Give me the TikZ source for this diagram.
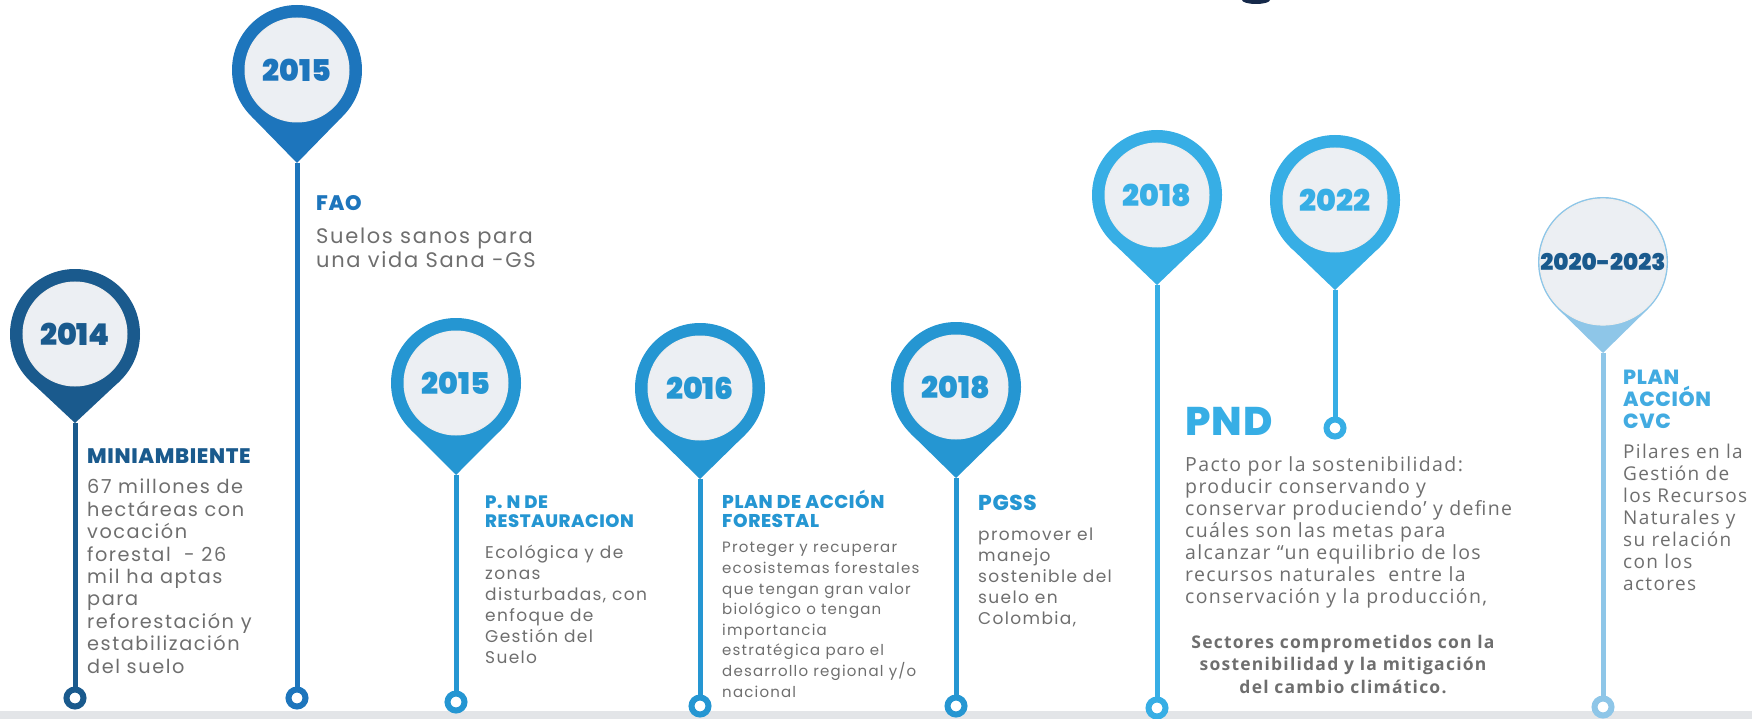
\documentclass[tikz,border=0pt]{standalone}
\usepackage{fontspec}
\setmainfont{Poppins}
\newfontfamily\bodyfont{Poppins}[LetterSpace=8]
\newfontfamily\headfont{Poppins ExtraBold}[LetterSpace=3]
\newfontfamily\yearfont{Poppins Black}
\newfontfamily\humfont{Open Sans}[LetterSpace=7]
\usetikzlibrary{calc}
\definecolor{tlNavy}{HTML}{1A5A8D}
\definecolor{tlBlue}{HTML}{1D75BC}
\definecolor{tlMid}{HTML}{2596D2}
\definecolor{tlSky}{HTML}{37AEE5}
\definecolor{tlPale}{HTML}{8EC6E8}
\definecolor{tlCvc}{HTML}{42ABE1}
\definecolor{tlDisc}{HTML}{ECEFF3}
\definecolor{tlText}{HTML}{6E6E6E}
\definecolor{tlStrip}{HTML}{E3E5E8}
\definecolor{tlInk}{HTML}{15294A}

\begin{document}
\begin{tikzpicture}[
  x=1pt,y=-1pt,
  disc/.style={circle, fill=tlDisc, draw=black!7, line width=1pt,
               minimum size=104pt, inner sep=0pt,
               font=\yearfont\fontsize{30}{30}\selectfont},
  ring/.style={circle, minimum size=17pt, inner sep=0pt,
               line width=6pt, fill=white},
  stem/.style={line width=5pt},
  % multi-line nodes sit on the baseline of their last line
  head/.style={font=\headfont\fontsize{21}{21}\selectfont,
               anchor=base west, align=left, inner sep=0pt},
  body/.style={font=\bodyfont\fontsize{18}{22.4}\selectfont, text=tlText,
               anchor=base west, align=left, inner sep=0pt},
  note/.style={font=\humfont\fontsize{19.5}{21.9}\selectfont, text=tlText,
               anchor=base west, align=left, inner sep=0pt},
]
  \path[use as bounding box] (0,0) rectangle (1752,719);

  % ground strip and the cut-off title glyph
  \fill[tlStrip] (0,711) rectangle (1752,719);
  \fill[tlInk] (1242,0) arc[start angle=180, end angle=0,
    x radius=14, y radius=4] -- cycle;

  % Pins: name/x/centre y/tip y/ring y/colour/year colour/year
  \foreach \n/\x/\y/\tp/\rg/\col/\ink/\yr in {
      a/75/334/423/698/tlNavy/tlNavy/2014,
      b/297/70/163/698/tlBlue/tlBlue/2015,
      c/456/383/475/702/tlMid/tlMid/2015,
      d/700/388/479/706/tlMid/tlMid/2016,
      e/956/387/478/706/tlMid/tlMid/2018,
      f/1157/195/285/708/tlSky/tlSky/2018,
      g/1335/200/290/428/tlSky/tlSky/2022,
      h/1603/262/353/707/tlPale/tlNavy/{\fontsize{23}{23}\selectfont 2020-2023}} {
    \fill[\col] (\x,\tp) -- ($(\x,\y)+(-45.5,46.4)$) --
      ($(\x,\y)+(45.5,46.4)$) -- cycle;
    \fill[\col] (\x,\y) circle (65pt);
    \node[disc, text=\ink] (p\n) at (\x,\y) {\yr};
    \coordinate (t\n) at (\x,\tp);
    \node[ring, draw=\col] (r\n) at (\x,\rg) {};
    \draw[stem, \col] (t\n) -- (r\n);
  }

  % 2014
  \node[head, text=tlNavy] (ha) at (87,463) {MINIAMBIENTE};
  \node[body, font=\bodyfont\fontsize{19.3}{22.4}\selectfont] (ba) at (87,673) {67 millones de\\hectáreas con\\vocación\\forestal\ \ - 26\\mil ha aptas\\para\\reforestación y\\estabilización\\del suelo};

  % 2015 FAO
  \node[head, text=tlBlue] (hb) at (316,211) {FAO};
  \node[body, font=\bodyfont\fontsize{21}{24}\selectfont] (bb) at (316,267) {Suelos sanos para\\una vida Sana -GS};

  % 2015 restauracion
  \node[head, text=tlMid, font=\headfont\fontsize{18}{19}\selectfont] (hc) at (485,527) {P. N DE\\RESTAURACION};
  \node[body, font=\bodyfont\fontsize{17}{21}\selectfont] (bc) at (485,663) {Ecológica y de\\zonas\\disturbadas, con\\enfoque de\\Gestión del\\Suelo};

  % 2016
  \node[head, text=tlMid, font=\headfont\fontsize{18.5}{19}\selectfont] (hd) at (722,527) {PLAN DE ACCIÓN\\FORESTAL};
  \node[body, font=\bodyfont\fontsize{15}{20.6}\selectfont] (bd) at (722,697) {Proteger y recuperar\\ecosistemas forestales\\que tengan gran valor\\biológico o tengan\\importancia\\estratégica paro el\\desarrollo regional y/o\\nacional};

  % 2018 PGSS
  \node[head, text=tlMid, font=\headfont\fontsize{21.5}{22}\selectfont] (he) at (978,510) {PGSS};
  \node[body, font=\bodyfont\fontsize{17}{21}\selectfont] (be) at (978,624) {promover el\\manejo\\sostenible del\\suelo en\\Colombia,};

  % 2018 PND
  \node[head, text=tlSky, font=\headfont\fontsize{40}{40}\selectfont] (hf) at (1185,435) {PND};
  \node[note] (bf) at (1185,603) {Pacto por la sostenibilidad:\\producir conservando y\\conservar produciendo’ y define\\cuáles son las metas para\\alcanzar “un equilibrio de los\\recursos naturales\ \ entre la\\conservación y la producción,};
  \node[note, anchor=base, align=center, font=\humfont\bfseries\fontsize{17.5}{22.5}\selectfont] (sf) at (1343,693) {Sectores comprometidos con la\\sostenibilidad y la mitigación\\del cambio climático.};

  % 2020-2023
  \node[head, text=tlCvc, font=\headfont\fontsize{20.5}{22}\selectfont] (hh) at (1623,428) {PLAN\\ACCIÓN\\CVC};
  \node[note, font=\humfont\fontsize{19}{22}\selectfont] (bh) at (1623,590) {Pilares en la\\Gestión de\\los Recursos\\Naturales y\\su relación\\con los\\actores};
\end{tikzpicture}
\end{document}
